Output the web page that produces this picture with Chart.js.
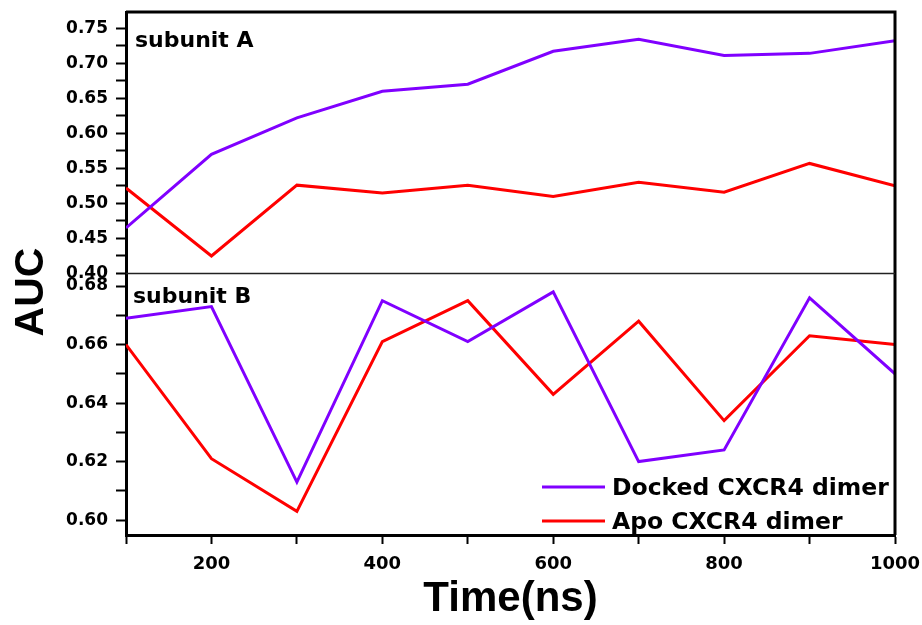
<!DOCTYPE html>
<html>
<head>
<meta charset="utf-8">
<script src="https://cdn.jsdelivr.net/npm/chart.js@4.4.1/dist/chart.umd.min.js"></script>
<style>
  html, body { margin: 0; padding: 0; background: #fff; }
  #wrap { width: 922px; height: 625px; }
</style>
</head>
<body>
<div id="wrap"><canvas id="aucChart" width="922" height="625"></canvas></div>
<script>
// Data
const times = [100, 200, 300, 400, 500, 600, 700, 800, 900, 1000];
const dockedA = [0.465, 0.570, 0.622, 0.660, 0.670, 0.717, 0.734, 0.711, 0.714, 0.732];
const apoA = [0.522, 0.425, 0.526, 0.515, 0.526, 0.510, 0.530, 0.516, 0.557, 0.525];
const dockedB = [0.669, 0.673, 0.613, 0.675, 0.661, 0.678, 0.620, 0.624, 0.676, 0.650];
const apoB = [0.660, 0.621, 0.603, 0.661, 0.675, 0.643, 0.668, 0.634, 0.663, 0.660];
const panelLabels = ['subunit A', 'subunit B'];
const seriesNames = ['Docked CXCR4 dimer', 'Apo CXCR4 dimer'];

const PURPLE = '#8000ff';
const RED = '#ff0000';
const tickFont = { family: "'DejaVu Sans', sans-serif", weight: 'bold', size: 17 };

const toPoints = (ys) => times.map((t, i) => ({ x: t, y: ys[i] }));

// Frame, separator, panel labels, y title and legend
const decorations = {
    id: 'decorations',
    afterDraw(chart) {
        const { ctx, chartArea, scales } = chart;
        const top = scales.yA, bottom = scales.yB;
        ctx.save();
        ctx.strokeStyle = '#000';
        ctx.lineWidth = 3;
        ctx.beginPath();
        ctx.moveTo(chartArea.left, chartArea.top);
        ctx.lineTo(chartArea.right, chartArea.top);
        ctx.lineTo(chartArea.right, chartArea.bottom);
        ctx.stroke();

        ctx.lineWidth = 1.5;
        ctx.strokeStyle = '#222';
        ctx.beginPath();
        ctx.moveTo(chartArea.left, top.bottom);
        ctx.lineTo(chartArea.right, top.bottom);
        ctx.stroke();

        ctx.fillStyle = '#000';
        ctx.font = "bold 22px 'DejaVu Sans', sans-serif";
        ctx.textAlign = 'left';
        ctx.textBaseline = 'alphabetic';
        ctx.fillText(panelLabels[0], chartArea.left + 9, top.top + 35);
        ctx.fillText(panelLabels[1], chartArea.left + 7, bottom.top + 29);

        // y title
        ctx.save();
        ctx.font = "bold 41px 'Liberation Sans', Arial, sans-serif";
        ctx.translate(43, 292);
        ctx.rotate(-Math.PI / 2);
        ctx.textAlign = 'center';
        ctx.fillText('AUC', 0, 0);
        ctx.restore();

        // legend inside lower panel
        ctx.font = "bold 23.5px 'DejaVu Sans', sans-serif";
        const rows = [chartArea.bottom - 48, chartArea.bottom - 14];
        [0, 1].forEach((i) => {
            const ds = chart.data.datasets[i];
            const y = rows[i];
            ctx.strokeStyle = ds.borderColor;
            ctx.lineWidth = 3;
            ctx.beginPath();
            ctx.moveTo(chartArea.right - 353, y);
            ctx.lineTo(chartArea.right - 290, y);
            ctx.stroke();
            ctx.fillStyle = '#000';
            ctx.fillText(ds.label, chartArea.right - 283, y + 8);
        });
        ctx.restore();
    }
};

function yTicks(step) {
    return {
        color: '#000',
        font: tickFont,
        padding: 8,
        autoSkip: false,
        includeBounds: false,
        callback: (v) => {
            const k = v / step;
            return Math.abs(k - Math.round(k)) < 1e-6 ? v.toFixed(2) : '';
        }
    };
}

const axisGrid = {
    drawOnChartArea: false,
    tickLength: 10,
    tickWidth: 2,
    tickColor: '#000'
};

function fitY(scale) {
    scale.width = 126;
    scale.paddingTop = 0;
    scale.paddingBottom = 0;
}

const ctx = document.getElementById('aucChart').getContext('2d');

new Chart(ctx, {
    type: 'line',
    data: {
        datasets: [
            { label: seriesNames[0], data: toPoints(dockedA), yAxisID: 'yA', borderColor: PURPLE },
            { label: seriesNames[1], data: toPoints(apoA), yAxisID: 'yA', borderColor: RED },
            { label: seriesNames[0], data: toPoints(dockedB), yAxisID: 'yB', borderColor: PURPLE },
            { label: seriesNames[1], data: toPoints(apoB), yAxisID: 'yB', borderColor: RED }
        ]
    },
    options: {
        responsive: false,
        animation: false,
        elements: {
            line: { borderWidth: 3, tension: 0, fill: false },
            point: { radius: 0 }
        },
        layout: { padding: { left: 0, top: 12, right: 27, bottom: 0 } },
        plugins: {
            legend: { display: false },
            tooltip: { enabled: false }
        },
        scales: {
            x: {
                type: 'linear',
                min: 100,
                max: 1000,
                grid: { ...axisGrid, tickLength: 9 },
                border: { display: true, color: '#000', width: 3 },
                ticks: {
                    stepSize: 100,
                    autoSkip: false,
                    color: '#000',
                    font: { ...tickFont, size: 18 },
                    padding: 10,
                    maxRotation: 0,
                    callback: (v) => (v % 200 === 0 ? String(v) : '')
                },
                title: {
                    display: true,
                    text: 'Time(ns)',
                    color: '#000',
                    font: { family: "'Liberation Sans', Arial, sans-serif", weight: 'bold', size: 42 },
                    padding: { top: 0, bottom: 0 }
                },
                afterFit: (scale) => {
                    scale.height = 90;
                    scale.paddingLeft = 0;
                    scale.paddingRight = 0;
                }
            },
            yB: {
                type: 'linear',
                position: 'left',
                stack: 'auc',
                stackWeight: 1,
                min: 0.5949,
                max: 0.6843,
                grid: axisGrid,
                border: { display: true, color: '#000', width: 3 },
                ticks: { ...yTicks(0.02), stepSize: 0.01 },
                afterFit: fitY
            },
            yA: {
                type: 'linear',
                position: 'left',
                stack: 'auc',
                stackWeight: 1,
                min: 0.40,
                max: 0.773,
                grid: axisGrid,
                border: { display: true, color: '#000', width: 3 },
                ticks: { ...yTicks(0.05), stepSize: 0.025 },
                afterFit: fitY
            }
        }
    },
    plugins: [decorations]
});
</script>
</body>
</html>
